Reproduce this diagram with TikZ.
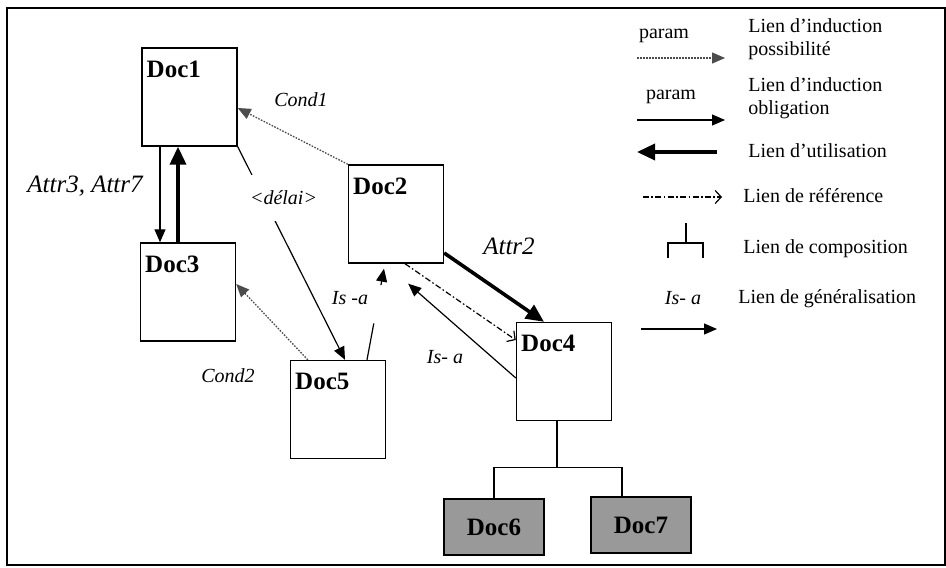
\documentclass[tikz,border=0pt]{standalone}
\usepackage{fontspec}
\setmainfont{Liberation Serif}
\usepackage{tikz}
\usetikzlibrary{arrows.meta, positioning, calc}
\tikzstyle{oblig} = [line width=0.6pt, -{Triangle[length=6.5pt,width=5.5pt]}]
\tikzstyle{possib} = [line width=0.65pt, black!70, dash pattern=on 0.8pt off 0.7pt, -{Triangle[length=6.5pt,width=5.5pt]}]
\tikzstyle{util} = [line width=1.8pt, -{Triangle[length=9pt,width=8pt]}]
\tikzstyle{refer} = [line width=0.6pt, dash pattern=on 3pt off 1.2pt on 0.8pt off 1.2pt, -{Straight Barb[length=3pt,width=6.5pt]}]
\tikzstyle{isaline} = [line width=0.6pt]
\tikzstyle{compo} = [line width=0.7pt]
\tikzset{
  docbox/.style={draw, line width=0.7pt, fill=white, minimum width=47.5pt, minimum height=49pt, inner sep=0pt,
    label={[anchor=north west, inner sep=0pt, xshift=2.5pt, yshift=-6.5pt, font=\fontsize{12.5}{14}\selectfont\bfseries]north west:#1}},
  subdoc/.style={draw, line width=0.7pt, fill=black!40, minimum width=50pt, minimum height=28pt, font=\fontsize{12.5}{14}\selectfont\bfseries},
  lbl/.style={font=\fontsize{10}{12}\selectfont\itshape, inner sep=1pt},
  biglbl/.style={font=\fontsize{12.5}{14}\selectfont\itshape, inner sep=1pt},
  parlbl/.style={font=\fontsize{10}{12}\selectfont, inner sep=0pt},
  legtext/.style={anchor=west, align=left, inner sep=0pt, font=\fontsize{10}{11.5}\selectfont},
}

\begin{document}
\begin{tikzpicture}[x=0.5pt, y=-0.5pt]
\useasboundingbox (0,0) rectangle (946,567);
\draw [line width=0.8pt] (7,8) rectangle (945,565);
\draw [line width=1.2pt] (7,8) -- (945,8);

% Documents
\node (doc1) [docbox=Doc1] at (189.5,97) {};
\node (doc3) [docbox=Doc3] at (188,292) {};
\node (doc2) [docbox=Doc2] at (396,214) {};
\node (doc5) [docbox=Doc5] at (338,409.5) {};
\node (doc4) [docbox=Doc4] at (564,371.5) {};
\node (doc6) [subdoc] at (494,527) {Doc6};
\node (doc7) [subdoc] at (641,525) {Doc7};

% Liens
\draw [oblig] ($(doc1.south)+(-29.5,0)$) -- ($(doc3.north)+(-28,0)$);
\draw [util] ($(doc3.north)+(-10,0)$) -- ($(doc1.south)+(-11.5,0)$);
\node [biglbl] at (85,186) {Attr3, Attr7};

\draw [possib] (doc2.north west) -- ($(doc1.east)+(0,11)$);
\node [lbl] at (301,100) {Cond1};

\draw [oblig] (doc1.south east) -- node [lbl, pos=0.24, fill=white, anchor=west, xshift=-8pt, inner ysep=8pt] {<délai>} ($(doc5.north)+(7,0)$);

\draw [possib] ($(doc5.north west)+(18,0)$) -- ($(doc3.east)+(0,-8)$);
\node [lbl] at (228,376) {Cond2};

\coordinate (isa5) at ($(doc5.north)+(29,0)$);
\coordinate (isa2) at ($(doc2.south)+(-12,5)$);
\draw [isaline] (isa5) -- ($(isa5)!.4!(isa2)$);
\draw [oblig] ($(isa5)!.82!(isa2)$) -- (isa2);
\node [lbl] at (350,298) {Is -a};

\coordinate (isa4) at ($(doc2.south east)+(-36,20)$);
\draw [oblig] ($(doc4.west)+(0,6.5)$) -- (isa4);
\node [lbl] at (445,357) {Is- a};

\draw [util] ($(doc2.east)+(0,39)$) -- ($(doc4.north)+(-20,0)$);
\node [biglbl] at (509,246) {Attr2};

\draw [refer] ($(doc2.south)+(9,0)$) -- ($(doc4.west)+(0,-31.5)$);

% Composition
\draw [compo] ($(doc4.south)+(-7,0)$) -- ++(0,46) coordinate (cj);
\draw [compo] (doc6.north) |- (cj) -| ($(doc7.north)+(-19,0)$);

% Legende
\coordinate (possA) at (637,58);
\coordinate (possB) at (725,58);
\draw [possib] (possA) -- (possB);
\node [parlbl] at (664,36) {param};
\node [legtext] at (748,39) {Lien d’induction\\possibilité};

\coordinate (obligA) at (637,120);
\coordinate (obligB) at (725,120);
\draw [oblig] (obligA) -- (obligB);
\node [parlbl] at (671,97) {param};
\node [legtext] at (748,98) {Lien d’induction\\obligation};

\coordinate (utilA) at (717,152);
\coordinate (utilB) at (637,152);
\draw [util] (utilA) -- (utilB);
\node [legtext] at (748,151) {Lien d’utilisation};

\coordinate (referA) at (643,197);
\coordinate (referB) at (722,197);
\draw [refer] (referA) -- (referB);
\node [legtext] at (743,196) {Lien de référence};

\draw [compo] (686,223) -- (686,243);
\draw [compo] (668,258) |- (703,243) -- (703,258);
\node [legtext] at (743,249) {Lien de composition};

\coordinate (isaA) at (641,329);
\coordinate (isaB) at (717,329);
\draw [oblig] (isaA) -- (isaB);
\node [lbl] at (683,298) {Is- a};
\node [legtext] at (738,299) {Lien de généralisation};
\end{tikzpicture}
\end{document}
